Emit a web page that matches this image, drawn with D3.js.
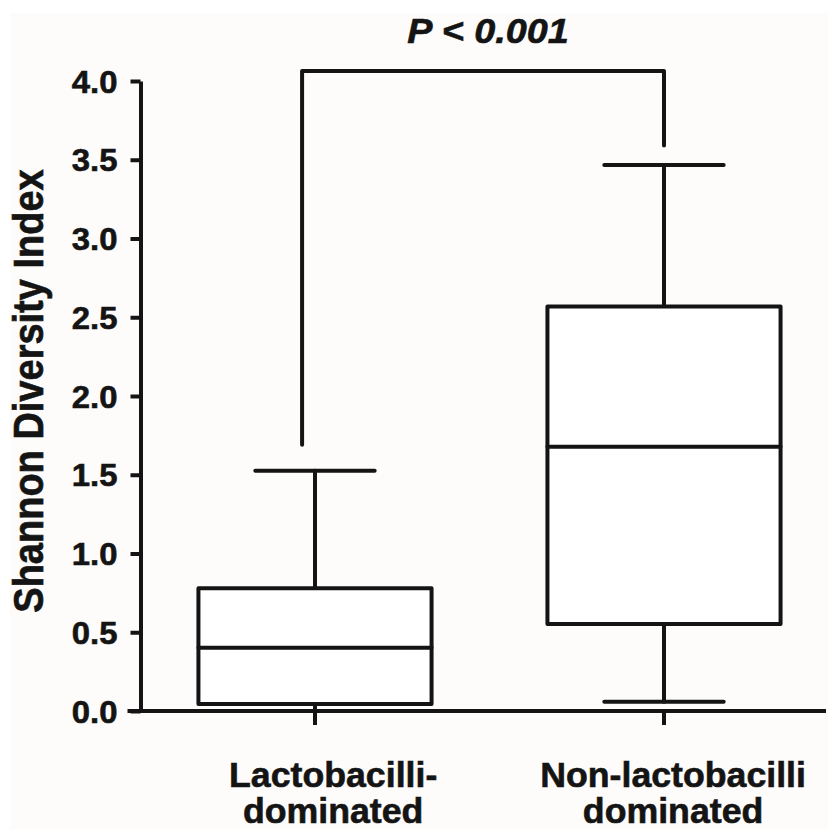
<!DOCTYPE html>
<html>
<head>
<meta charset="utf-8">
<script src="https://cdn.jsdelivr.net/npm/d3@7"></script>
<style>
  html, body { margin: 0; padding: 0; background: #ffffff; }
  svg { display: block; }
  text { font-family: "Liberation Sans", Arial, Helvetica, sans-serif; font-weight: bold; fill: #141414; stroke: #141414; stroke-width: 0.6px; }
</style>
</head>
<body>
<svg id="chart" width="828" height="830"></svg>
<script>
// ---- Data ----
const categories = ["Lactobacilli-dominated", "Non-lactobacilli dominated"];
const labelLines = [["Lactobacilli-", "dominated"], ["Non-lactobacilli", "dominated"]];
const labelOffsets = [0.052, 0.026];        // fraction of band step
const whiskerLow = [0.0, 0.059];
const q1 = [0.045, 0.552];
const median = [0.402, 1.678];
const q3 = [0.779, 2.568];
const whiskerHigh = [1.526, 3.467];
const yTicks = [0.0, 0.5, 1.0, 1.5, 2.0, 2.5, 3.0, 3.5, 4.0];
const yTitle = "Shannon Diversity Index";
const bracketTop = 4.063;
const bracketLegBottom = [1.69, 3.59];
const bracketLegOffsets = [-0.037, 0];      // fraction of band step
const pLabel = "P < 0.001";

// ---- Layout ----
const W = 828, H = 830;
const axisX = 140.5;
const ink = "#141414";
const sw = 4;

const svg = d3.select("#chart");
svg.append("rect").attr("width", W).attr("height", H).attr("fill", "#ffffff");
svg.append("rect").attr("x", 10).attr("y", 13).attr("width", W - 10).attr("height", H - 13).attr("fill", "#fdfcfa");

const y = d3.scaleLinear().domain([0, 4]).range([711, 81]);
const x = d3.scaleBand().domain(categories).range([axisX, axisX + 698]).padding(0);
const step = x.step();
const cx = d => x(d) + x.bandwidth() / 2;
const boxW = step * 0.668;
const capW = step * 0.342;

// ---- Y axis ----
const yAxis = d3.axisLeft(y).tickValues(yTicks).tickFormat(d3.format(".1f"))
  .tickSize(10).tickSizeOuter(0).tickPadding(13);
const gy = svg.append("g").attr("transform", `translate(${axisX},0)`).call(yAxis);
gy.attr("font-size", null).attr("font-family", null);
gy.select(".domain").attr("stroke", ink).attr("stroke-width", sw);
gy.selectAll(".tick line").attr("stroke", ink).attr("stroke-width", sw);
gy.selectAll(".tick text").each(function() {
  const t = d3.select(this);
  const tx = +t.attr("x");
  t.attr("x", 0).attr("dy", "0.36em")
   .attr("transform", `translate(${tx},0) scale(1.06,1)`)
   .attr("font-size", 31).attr("fill", ink);
});

// ---- X axis ----
svg.append("line")
  .attr("x1", axisX - 13).attr("x2", 826)
  .attr("y1", y(0)).attr("y2", y(0))
  .attr("stroke", ink).attr("stroke-width", sw);
svg.selectAll(".xtick").data(categories).join("line")
  .attr("class", "xtick")
  .attr("x1", d => cx(d)).attr("x2", d => cx(d))
  .attr("y1", y(0)).attr("y2", y(0) + 14)
  .attr("stroke", ink).attr("stroke-width", sw);

// X labels
categories.forEach((c, i) => {
  const tx = svg.append("text")
    .attr("text-anchor", "middle")
    .attr("font-size", 35)
    .attr("transform", `translate(${cx(c) + labelOffsets[i] * step},787) scale(1.02,1)`);
  labelLines[i].forEach((ln, j) => {
    tx.append("tspan").attr("x", 0).attr("y", j * 36).text(ln);
  });
});

// Y title
svg.append("text")
  .attr("text-anchor", "middle")
  .attr("font-size", 38)
  .attr("transform", `translate(43,391) scale(1.1,1) rotate(-90)`)
  .text(yTitle);

// ---- Boxes ----
const g = svg.append("g").attr("fill", "none").attr("stroke", ink).attr("stroke-width", sw)
  .attr("stroke-linejoin", "round").attr("stroke-linecap", "round");

categories.forEach((c, i) => {
  const m = cx(c);
  g.append("line").attr("x1", m).attr("x2", m).attr("y1", y(q3[i])).attr("y2", y(whiskerHigh[i]));
  g.append("line").attr("x1", m).attr("x2", m).attr("y1", y(q1[i])).attr("y2", y(whiskerLow[i]));
  g.append("line").attr("x1", m - capW / 2).attr("x2", m + capW / 2).attr("y1", y(whiskerHigh[i])).attr("y2", y(whiskerHigh[i]));
  if (whiskerLow[i] > 0) {
    g.append("line").attr("x1", m - capW / 2).attr("x2", m + capW / 2).attr("y1", y(whiskerLow[i])).attr("y2", y(whiskerLow[i]));
  }
  g.append("rect").attr("x", m - boxW / 2).attr("width", boxW)
    .attr("y", y(q3[i])).attr("height", y(q1[i]) - y(q3[i]))
    .attr("fill", "#ffffff");
  g.append("line").attr("x1", m - boxW / 2).attr("x2", m + boxW / 2).attr("y1", y(median[i])).attr("y2", y(median[i]));
});

// ---- Significance bracket ----
const bx = categories.map((c, i) => cx(c) + bracketLegOffsets[i] * step);
const bracket = d3.line().x(d => d[0]).y(d => y(d[1]));
g.append("path")
  .attr("d", bracket([[bx[0], bracketLegBottom[0]], [bx[0], bracketTop], [bx[1], bracketTop], [bx[1], bracketLegBottom[1]]]));

svg.append("text")
  .attr("text-anchor", "middle")
  .attr("font-size", 35)
  .attr("font-style", "italic")
  .attr("transform", `translate(${(bx[0] + bx[1]) / 2 + 5},43) scale(1.08,1)`)
  .text(pLabel);
</script>
</body>
</html>
